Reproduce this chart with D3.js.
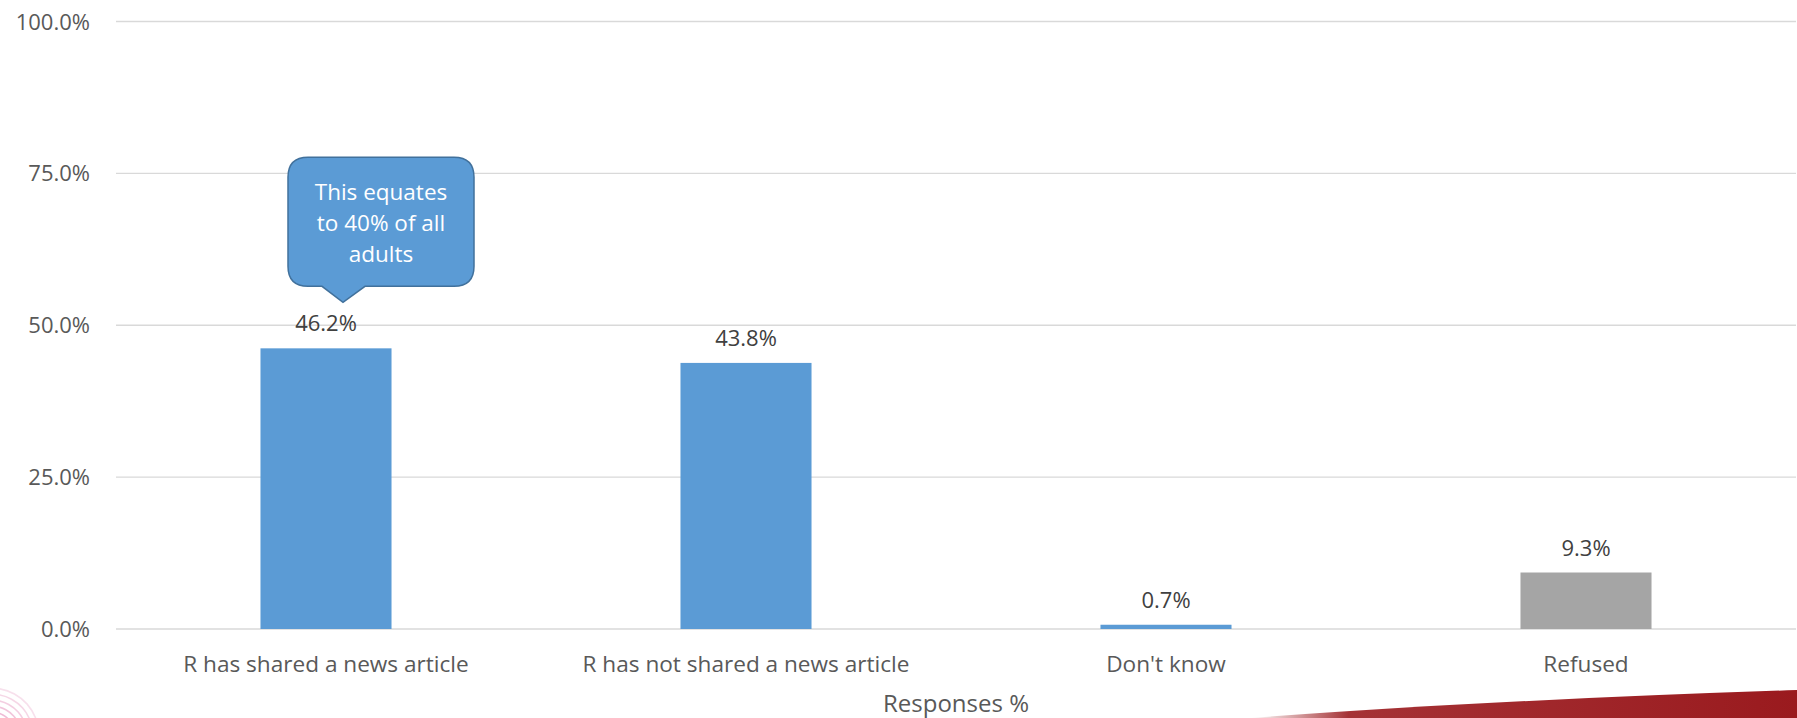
<!DOCTYPE html>
<html>
<head>
<meta charset="utf-8">
<script src="https://cdn.jsdelivr.net/npm/d3@7"></script>
<style>
  html, body { margin: 0; padding: 0; background: #ffffff; }
  svg { display: block; }
</style>
</head>
<body>
<svg id="chart" width="1797" height="718"></svg>
<script>
// ---- data ----
const categories = ["R has shared a news article", "R has not shared a news article", "Don't know", "Refused"];
const values = [46.2, 43.8, 0.7, 9.3];
const barColors = ["#5B9BD5", "#5B9BD5", "#5B9BD5", "#A5A5A5"];
const yTicks = [0, 25, 50, 75, 100];
const axisTitle = "Responses %";
const calloutLines = ["This equates", "to 40% of all", "adults"];

// ---- layout ----
const W = 1797, H = 718;
const plot = { left: 116, right: 1796, top: 21.5, bottom: 629 };
const font = "'Open Sans', 'Noto Sans', sans-serif";

const svg = d3.select("#chart");

const x = d3.scaleBand().domain(categories).range([plot.left, plot.right]).paddingInner(0.688).paddingOuter(0.344);
const y = d3.scaleLinear().domain([0, 100]).range([plot.bottom, plot.top]);

// decorations: bottom-left faint arcs
const deco = svg.append("g");
[22, 28, 34, 40, 46].forEach((r, i) => {
  deco.append("path")
    .attr("d", d3.arc()({ innerRadius: r, outerRadius: r + 1.6, startAngle: -0.2, endAngle: 1.2 }))
    .attr("transform", "translate(-8,735)")
    .attr("fill", "#E9A6C8")
    .attr("opacity", 0.75 - i * 0.1);
});
// bottom-right red swoosh
const defs = svg.append("defs");
const grad = defs.append("linearGradient").attr("id", "swoosh").attr("x1", "0%").attr("x2", "100%");
grad.append("stop").attr("offset", "0%").attr("stop-color", "#9B1B1F").attr("stop-opacity", 0);
grad.append("stop").attr("offset", "18%").attr("stop-color", "#9B1B1F").attr("stop-opacity", 0.9);
grad.append("stop").attr("offset", "100%").attr("stop-color", "#9A1A1E").attr("stop-opacity", 1);
svg.append("path")
  .attr("d", "M1250,718 Q1490,700 1797,690 L1797,718 Z")
  .attr("fill", "url(#swoosh)");

// gridlines
svg.append("g")
  .selectAll("line")
  .data(yTicks)
  .join("line")
  .attr("x1", plot.left).attr("x2", plot.right)
  .attr("y1", d => y(d)).attr("y2", d => y(d))
  .attr("stroke", "#D9D9D9")
  .attr("stroke-width", d => d === 0 ? 1.6 : 1.3);

// y tick labels
svg.append("g")
  .selectAll("text")
  .data(yTicks)
  .join("text")
  .attr("x", 90)
  .attr("y", d => y(d) + 8)
  .attr("text-anchor", "end")
  .attr("font-family", font)
  .attr("font-size", 22)
  .attr("fill", "#595959")
  .text(d => d3.format(".1f")(d) + "%");

// bars
svg.append("g")
  .selectAll("rect")
  .data(values)
  .join("rect")
  .attr("x", (d, i) => x(categories[i]))
  .attr("width", x.bandwidth())
  .attr("y", d => y(d))
  .attr("height", d => y(0) - y(d))
  .attr("fill", (d, i) => barColors[i]);

// value labels
svg.append("g")
  .selectAll("text")
  .data(values)
  .join("text")
  .attr("x", (d, i) => x(categories[i]) + x.bandwidth() / 2)
  .attr("y", d => y(d) - 17)
  .attr("text-anchor", "middle")
  .attr("font-family", font)
  .attr("font-size", 22)
  .attr("fill", "#404040")
  .text(d => d3.format(".1f")(d) + "%");

// x category labels
svg.append("g")
  .selectAll("text")
  .data(categories)
  .join("text")
  .attr("x", d => x(d) + x.bandwidth() / 2)
  .attr("y", 672)
  .attr("text-anchor", "middle")
  .attr("font-family", font)
  .attr("font-size", 22.6)
  .attr("fill", "#595959")
  .text(d => d);

// axis title
svg.append("text")
  .attr("x", (plot.left + plot.right) / 2)
  .attr("y", 712)
  .attr("text-anchor", "middle")
  .attr("font-family", font)
  .attr("font-size", 24)
  .attr("fill", "#595959")
  .text(axisTitle);

// callout anchored above the first bar
const tipX = x(categories[0]) + x.bandwidth() / 2 + 17;
const tipY = y(values[0]) - 46;
const bx0 = tipX - 55, bx1 = tipX + 131, by0 = tipY - 145, by1 = tipY - 16, r = 20;
const pL = tipX - 21, pR = tipX + 22;
const calloutPath = [
  `M${bx0 + r},${by0}`,
  `L${bx1 - r},${by0}`,
  `Q${bx1},${by0} ${bx1},${by0 + r}`,
  `L${bx1},${by1 - r}`,
  `Q${bx1},${by1} ${bx1 - r},${by1}`,
  `L${pR},${by1}`,
  `L${tipX},${tipY}`,
  `L${pL},${by1}`,
  `L${bx0 + r},${by1}`,
  `Q${bx0},${by1} ${bx0},${by1 - r}`,
  `L${bx0},${by0 + r}`,
  `Q${bx0},${by0} ${bx0 + r},${by0}`,
  "Z"
].join(" ");
svg.append("path")
  .attr("d", calloutPath)
  .attr("fill", "#5B9BD5")
  .attr("stroke", "#41719C")
  .attr("stroke-width", 1.5);
const cx = (bx0 + bx1) / 2;
svg.append("g")
  .selectAll("text")
  .data(calloutLines)
  .join("text")
  .attr("x", cx)
  .attr("y", (d, i) => by0 + 43 + i * 31)
  .attr("text-anchor", "middle")
  .attr("font-family", font)
  .attr("font-size", 22.5)
  .attr("fill", "#ffffff")
  .text(d => d);
</script>
</body>
</html>
